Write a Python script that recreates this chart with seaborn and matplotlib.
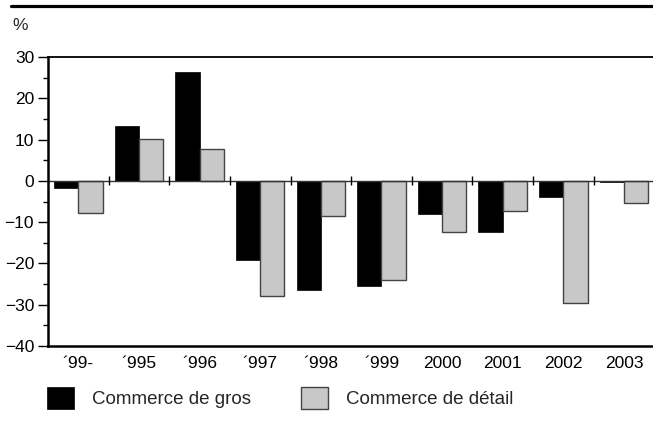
import matplotlib
matplotlib.use("Agg")
import matplotlib.pyplot as plt
from matplotlib.lines import Line2D
from matplotlib.patches import Patch
from matplotlib.ticker import MultipleLocator
import seaborn as sns
import pandas as pd

years = ["´99-", "´995", "´996", "´997", "´998", "´999", "2000", "2001", "2002", "2003"]
gros = [-1.7, 13.3, 26.4, -19.1, -26.4, -25.4, -8.0, -12.3, -3.8, -0.3]
detail = [-7.7, 10.2, 7.7, -27.8, -8.5, -24.0, -12.3, -7.3, -29.5, -5.4]
series_names = ["Commerce de gros", "Commerce de détail"]
yticks = [30, 20, 10, 0, -10, -20, -30, -40]

df = pd.DataFrame({
    "year": years * 2,
    "value": gros + detail,
    "series": [series_names[0]] * len(years) + [series_names[1]] * len(years),
})

sns.set_style("white")
plt.rcParams["font.family"] = ["Liberation Sans", "DejaVu Sans"]

fig = plt.figure(figsize=(6.53, 4.29), dpi=100)
ax = fig.add_axes([48 / 653, 1 - 346 / 429, 1 - 48 / 653 + 0.002, (346 - 57) / 429])

colors = ["#000000", "#c8c8c8"]
sns.barplot(data=df, x="year", y="value", hue="series", palette=colors,
            width=0.8, ax=ax, legend=False, saturation=1)

for i, p in enumerate(ax.patches):
    if abs(p.get_facecolor()[0] - 0.784) < 0.05:
        p.set_edgecolor("#444444")
        p.set_linewidth(1.0)
    else:
        p.set_edgecolor("#000000")
        p.set_linewidth(0.5)

ax.set_xlim(-0.5, len(years) - 0.5)
ax.set_ylim(-40, 30)
ax.set_yticks(yticks)
ax.yaxis.set_minor_locator(MultipleLocator(5))
ax.set_xlabel("")
ax.set_ylabel("")

ax.axhline(0, color="#333333", lw=1.0, zorder=1)
ax.vlines([k + 0.5 for k in range(len(years) - 1)], -1.1, 1.1,
          color="#000000", lw=1.0, zorder=3)

for s in ["left", "bottom", "top"]:
    ax.spines[s].set_visible(True)
    ax.spines[s].set_color("black")
ax.spines["left"].set_linewidth(1.8)
ax.spines["bottom"].set_linewidth(1.8)
ax.spines["top"].set_linewidth(1.3)
ax.spines["right"].set_visible(False)

ax.tick_params(axis="y", which="major", left=True, length=7, width=1.0,
               labelsize=12.5, pad=3, colors="black")
ax.tick_params(axis="y", which="minor", left=True, length=3.6, width=1.0, colors="black")
ax.tick_params(axis="x", which="both", bottom=False, length=0, labelsize=12.5, pad=7)
for lbl in ax.get_xticklabels():
    lbl.set_color("black")

fig.text(12 / 653, 1 - 25 / 429, "%", fontsize=12.5, va="center", ha="left")
fig.add_artist(Line2D([11 / 653, 1.0], [1 - 5.5 / 429, 1 - 5.5 / 429],
                      transform=fig.transFigure, color="black", lw=2.3))

handles = [Patch(facecolor=colors[0], edgecolor="black", linewidth=0.5),
           Patch(facecolor=colors[1], edgecolor="#444444", linewidth=1.0)]
fig.legend(handles, series_names, loc="upper left",
           bbox_to_anchor=(47 / 653, 1 - 387 / 429), ncol=2, frameon=False,
           fontsize=13.5, handlelength=1.45, handleheight=1.45,
           handletextpad=0.95, columnspacing=2.65, borderpad=0, borderaxespad=0)

fig.savefig("out.png", dpi=100)
